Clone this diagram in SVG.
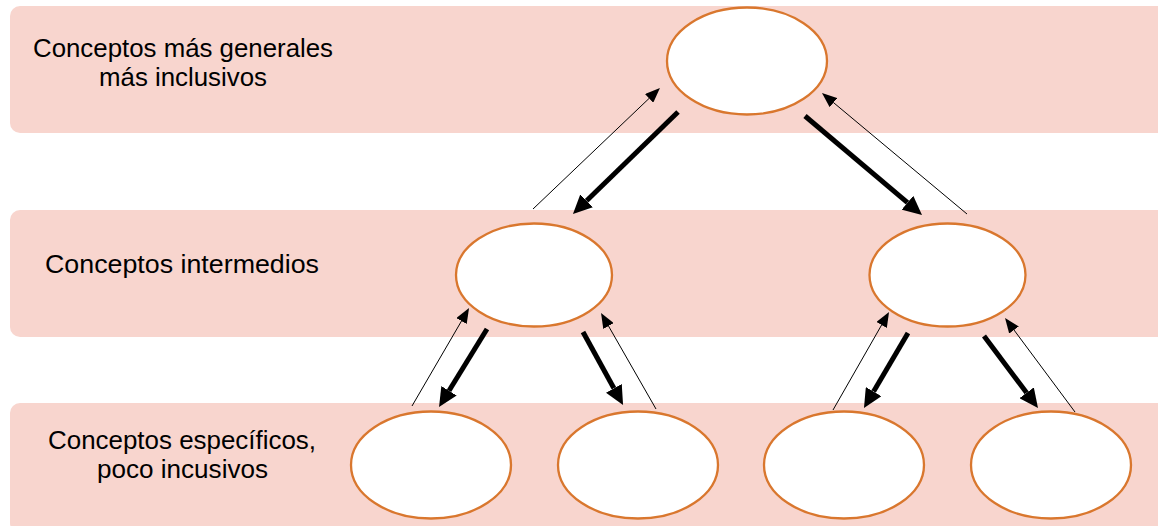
<svg xmlns="http://www.w3.org/2000/svg" width="1158" height="526" viewBox="0 0 1158 526">
<defs>
<style>
.band{fill:#F8D5CE}
.node{fill:#FFFFFF;stroke:#D9772E;stroke-width:2.3}
.lbl{font-family:"Liberation Sans",Arial,sans-serif;font-size:26px;fill:#000}
.thin{stroke:#000;stroke-width:1;fill:none;marker-end:url(#hThin)}
.thick{stroke:#000;stroke-width:5;fill:none;marker-end:url(#hThick)}
</style>
<marker id="hThick" markerUnits="userSpaceOnUse" viewBox="0 0 19 18" markerWidth="19" markerHeight="18" refX="0" refY="9" orient="auto"><path d="M0,0 L19,9 L0,18 z" fill="#000"/></marker>
<marker id="hThin" markerUnits="userSpaceOnUse" viewBox="0 0 15 12" markerWidth="15" markerHeight="12" refX="0" refY="6" orient="auto"><path d="M0,0 L15,6 L0,12 z" fill="#000"/></marker>
</defs>
<g id="bands">
<rect class="band" x="10" y="6" width="1158" height="127" rx="10"/>
<rect class="band" x="10" y="210" width="1158" height="127" rx="10"/>
<rect class="band" x="10" y="403" width="1158" height="130" rx="10"/>
</g>
<g id="labels">
<text class="lbl" x="33" y="57" textLength="300" lengthAdjust="spacingAndGlyphs">Conceptos más generales</text>
<text class="lbl" x="99" y="86" textLength="168" lengthAdjust="spacingAndGlyphs">más inclusivos</text>
<text class="lbl" x="45" y="272.5" textLength="274" lengthAdjust="spacingAndGlyphs">Conceptos intermedios</text>
<text class="lbl" x="48" y="449" textLength="268" lengthAdjust="spacingAndGlyphs">Conceptos específicos,</text>
<text class="lbl" x="97" y="478" textLength="171" lengthAdjust="spacingAndGlyphs">poco incusivos</text>
</g>
<g id="n-top"><ellipse class="node" cx="747" cy="61" rx="80" ry="53.5"/></g>
<g id="n-mid-left"><ellipse class="node" cx="534" cy="275" rx="78" ry="51.5"/></g>
<g id="n-mid-right"><ellipse class="node" cx="947.5" cy="275" rx="78" ry="51.5"/></g>
<g id="n-bot-1"><ellipse class="node" cx="431" cy="465" rx="80" ry="53.5"/></g>
<g id="n-bot-2"><ellipse class="node" cx="638" cy="465" rx="80" ry="53.5"/></g>
<g id="n-bot-3"><ellipse class="node" cx="844" cy="465" rx="80" ry="53.5"/></g>
<g id="n-bot-4"><ellipse class="node" cx="1051" cy="465" rx="80" ry="53.5"/></g>
<g id="connectors">
<line class="thin" x1="533" y1="209" x2="649.1" y2="98.4"/>
<line class="thick" x1="678" y1="112" x2="586.6" y2="200.8"/>
<line class="thick" x1="805" y1="116" x2="907.5" y2="202.7"/>
<line class="thin" x1="967" y1="214" x2="833.5" y2="102.6"/>
<line class="thin" x1="412" y1="406" x2="461.5" y2="321"/>
<line class="thick" x1="487" y1="329" x2="449" y2="390.8"/>
<line class="thick" x1="583" y1="332" x2="613.9" y2="388.3"/>
<line class="thin" x1="656" y1="409" x2="608.5" y2="326"/>
<line class="thin" x1="833" y1="410" x2="881.6" y2="325"/>
<line class="thick" x1="908" y1="333" x2="873.6" y2="391.6"/>
<line class="thick" x1="984" y1="336" x2="1026.6" y2="392.8"/>
<line class="thin" x1="1075" y1="412" x2="1014" y2="330"/>
</g>
</svg>
